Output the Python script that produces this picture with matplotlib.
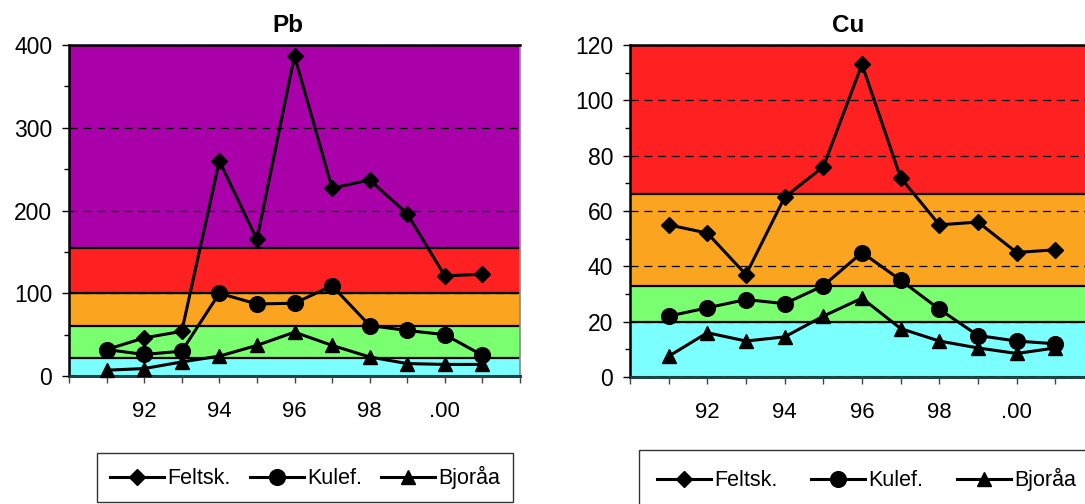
import matplotlib
matplotlib.use('Agg')
import numpy as np
import matplotlib.pyplot as plt
from matplotlib.ticker import MultipleLocator, FixedLocator

plt.rcParams['font.family'] = ['Liberation Sans', 'DejaVu Sans']

# === data ===
years = ['91', '92', '93', '94', '95', '96', '97', '98', '99', '.00', '01']
shown = ['92', '94', '96', '98', '.00']          # labels printed on x axis
series = ['Feltsk.', 'Kulef.', 'Bjoråa']

pb_feltsk = [32, 46, 54, 260, 165, 387, 227, 237, 196, 121, 123]
pb_kulef = [32, 26, 30, 100, 87, 88, 109, 61, 55, 50, 25]
pb_bjoraa = [7, 9, 17, 24, 37, 53, 37, 23, 15, 14, 14]

cu_feltsk = [55, 52, 37, 65, 76, 113, 72, 55, 56, 45, 46]
cu_kulef = [22, 25, 28, 26.5, 33, 45, 35, 24.5, 15, 13, 12]
cu_bjoraa = [7.5, 16, 13, 14.5, 22, 28.5, 17.5, 13, 10.5, 8.5, 10.5]

# class limits (background bands) and their colours
pb_bands = [0, 22, 60, 100, 155, 400]
pb_colors = ['#7cffff', '#7aff70', '#fba420', '#ff2121', '#aa00aa']
cu_bands = [0, 20, 33, 66, 120]
cu_colors = ['#7cffff', '#7aff70', '#fba420', '#ff2121']

markers = ['D', 'o', '^']
msizes = [8.5, 11.3, 10.5]


def draw(ax, title, title_x, data, bands, colors, major, minor):
    x = np.arange(1, len(years) + 1)
    for i in range(len(bands) - 1):
        ax.axhspan(bands[i], bands[i + 1], color=colors[i], lw=0, zorder=0.5)
    for b in bands[1:-1]:
        ax.axhline(b, color='k', lw=1.6, zorder=0.8)

    for vals, m, ms, name in zip(data, markers, msizes, series):
        ax.plot(x, vals, color='k', lw=2.2, marker=m, ms=ms, label=name,
                zorder=3, clip_on=False)

    ax.set_xlim(0, len(years) + 1)
    ax.set_ylim(bands[0], bands[-1])
    ax.set_axisbelow(False)
    ax.yaxis.grid(True, ls=(0, (6.5, 4.5)), color='k', lw=0.9)

    ax.xaxis.set_major_locator(FixedLocator(np.arange(0, len(years) + 2)))
    labels = [''] + [y if y in shown else '' for y in years] + ['']
    ax.set_xticklabels(labels)
    ax.yaxis.set_major_locator(MultipleLocator(major))
    ax.yaxis.set_minor_locator(MultipleLocator(minor))

    ax.tick_params(axis='x', length=5, width=1, pad=13, labelsize=16, color='#444444')
    ax.tick_params(axis='y', which='major', length=5, width=1, pad=7, labelsize=16.5)
    ax.tick_params(axis='y', which='minor', length=3.5, width=1)

    for s in ['top', 'left']:
        ax.spines[s].set_linewidth(1.8)
    ax.spines['right'].set_color('#888888')
    ax.spines['right'].set_linewidth(1.2)
    ax.spines['bottom'].set_color('#1d4545')
    ax.spines['bottom'].set_linewidth(2.2)

    fig.text(title_x, 1 - 25 / 504, title, ha='center', va='center',
             fontsize=17.5, fontweight='bold')


W, H = 1085, 504
fig = plt.figure(figsize=(W / 100, H / 100), dpi=100)

ax1 = fig.add_axes([69 / W, 1 - 376 / H, 451 / W, 331 / H])
draw(ax1, 'Pb', 288 / W, [pb_feltsk, pb_kulef, pb_bjoraa], pb_bands, pb_colors, 100, 50)

ax2 = fig.add_axes([630 / W, 1 - 377 / H, 464 / W, 332 / H])
draw(ax2, 'Cu', 848 / W, [cu_feltsk, cu_kulef, cu_bjoraa], cu_bands, cu_colors, 20, 10)

for ax, x0, y0, w, bp in [(ax1, 97, 453, 416, 0.6), (ax2, 639, 450, 455, 0.85)]:
    leg = ax.legend(loc='upper left', bbox_to_anchor=(x0 / W, 1 - y0 / H, w / W, 0),
                    bbox_transform=fig.transFigure, mode='expand', ncol=3,
                    fontsize=15.5, frameon=True, fancybox=False, framealpha=1,
                    edgecolor='#333333', borderpad=bp, handlelength=2.5,
                    handletextpad=0.15, borderaxespad=0)
    leg.get_frame().set_linewidth(1.0)

fig.savefig('out.png', dpi=100)
